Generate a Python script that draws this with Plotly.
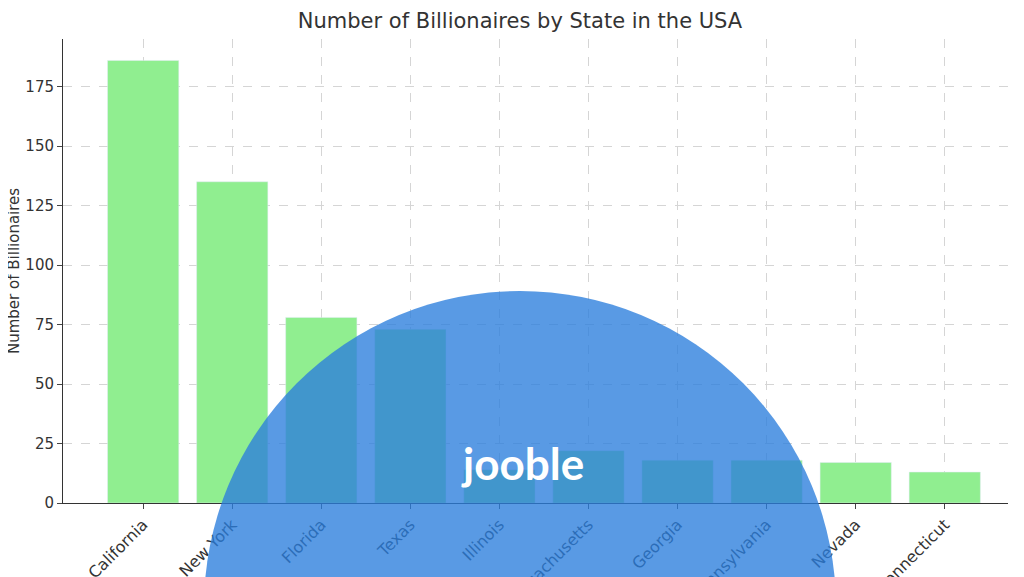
import plotly.graph_objects as go

states = ["California", "New York", "Florida", "Texas", "Illinois", "Massachusetts",
          "Georgia", "Pennsylvania", "Nevada", "Connecticut"]
billionaires = [186, 135, 78, 73, 14, 22, 18, 18, 17, 13]

# the page puts the figure ~7px in from the corner
OFF = 7
L, T, W, H = 62 - OFF, 38 - OFF, 945, 464


def px_x(p):
    return (p - OFF - L) / W


def px_y(p):
    return (T + H - (p - OFF)) / H


fig = go.Figure(go.Bar(x=states, y=billionaires, marker_color="#90ee90", width=0.8))

fig.update_layout(
    width=1024, height=577,
    margin=dict(l=L, r=1024 - L - W, t=T, b=577 - T - H, autoexpand=False),
    paper_bgcolor="#fff", plot_bgcolor="#fff",
    font=dict(family="DejaVu Sans", size=15, color="#333"),
    title=dict(text="Number of Billionaires by State in the USA", x=0.5, y=0.99,
               xanchor="center", yanchor="top", font=dict(size=21, color="#333")),
    showlegend=False,
)
fig.update_xaxes(range=[-0.9, 9.71], tickangle=-45, showgrid=True, gridcolor="#d5d5d5",
                 griddash="dash", showline=True, linecolor="#333", ticks="outside",
                 tickfont=dict(size=16), automargin=False)
fig.update_yaxes(range=[0, 195], dtick=25, showgrid=True, gridcolor="#d5d5d5",
                 griddash="dash", zeroline=False, showline=True, linecolor="#333",
                 ticks="outside", tickfont=dict(size=15), automargin=False)

# y title placed by hand since automargin is off
fig.add_annotation(text="Number of Billionaires", xref="paper", yref="paper",
                   x=px_x(2), y=px_y(270), textangle=-90, showarrow=False,
                   font=dict(size=15, color="#333"))

# watermark
fig.add_shape(type="circle", xref="paper", yref="paper",
              x0=px_x(203), x1=px_x(835), y0=px_y(922), y1=px_y(290),
              fillcolor="#2a7ddd", opacity=0.78, line_width=0, layer="above")
fig.add_annotation(text="<b>jooble</b>", xref="paper", yref="paper",
                   x=px_x(521), y=px_y(490), showarrow=False,
                   font=dict(size=44, color="white", family="Lato"))

fig.write_html("out.html")
